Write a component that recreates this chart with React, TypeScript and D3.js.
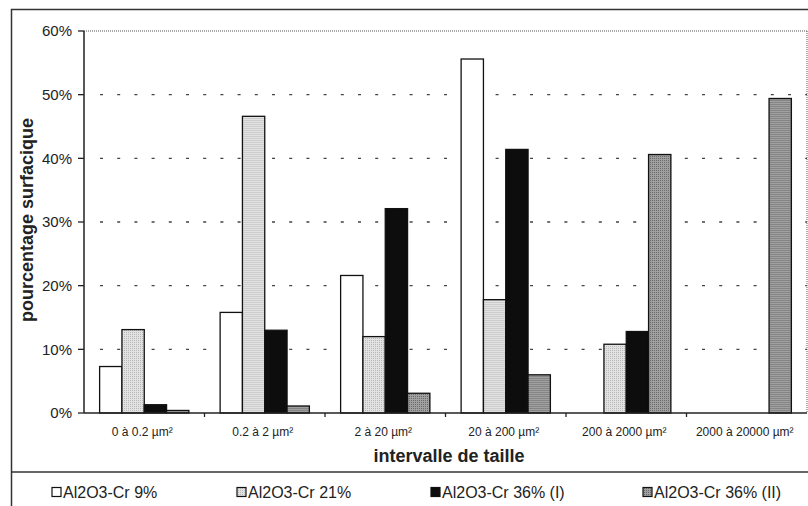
import React from "react";
import * as d3 from "d3";

const categories = [
  "0 à 0.2 µm²",
  "0.2 à 2 µm²",
  "2 à 20 µm²",
  "20 à 200 µm²",
  "200 à 2000 µm²",
  "2000 à 20000 µm²",
];
const seriesNames = ["Al2O3-Cr 9%", "Al2O3-Cr 21%", "Al2O3-Cr 36% (I)", "Al2O3-Cr 36% (II)"];
const cr9 = [7.3, 15.8, 21.6, 55.6, 0, 0];
const cr21 = [13.1, 46.6, 12.0, 17.8, 10.8, 0];
const cr36I = [1.3, 13.0, 32.1, 41.4, 12.8, 0];
const cr36II = [0.4, 1.1, 3.1, 6.0, 40.6, 49.4];
const seriesValues = [cr9, cr21, cr36I, cr36II];
const yTicks = [0, 10, 20, 30, 40, 50, 60];
const fills = ["#ffffff", "#d6d6d6", "#0d0d0d", "#8f8f8f"];
const legendX = [52, 237, 431, 643];

export default function App() {
  const W = 808, H = 506;
  const left = 84, right = 807, top = 31, bottom = 413;
  const x0 = d3.scaleBand<string>().domain(categories).range([left, right]).padding(0);
  const x1 = d3
    .scaleBand<string>()
    .domain(seriesNames)
    .range([0, x0.bandwidth()])
    .paddingInner(0)
    .paddingOuter(0.7);
  const y = d3.scaleLinear().domain([0, 60]).range([bottom, top]);
  const font = "'Liberation Sans', Arial, sans-serif";

  return (
    <svg
      width={W}
      height={H}
      style={{ position: "absolute", left: 0, top: 0, background: "#fff" }}
      fontFamily={font}
    >
      <defs>
        <pattern id="lg" width="2" height="2" patternUnits="userSpaceOnUse">
          <rect width="2" height="2" fill="#e2e2e2" />
          <rect width="1" height="1" fill="#b8b8b8" />
        </pattern>
        <pattern id="dg" width="2" height="2" patternUnits="userSpaceOnUse">
          <rect width="2" height="2" fill="#a0a0a0" />
          <rect width="1" height="1" fill="#6a6a6a" />
        </pattern>
      </defs>
      {/* outer frame */}
      <rect x={11.5} y={9.5} width={W} height={H} fill="none" stroke="#333" strokeWidth={1.5} />
      <line x1={11} x2={W} y1={472} y2={472} stroke="#333" strokeWidth={1.5} />

      {/* gridlines */}
      {yTicks
        .filter((t) => t > 0 && t < 60)
        .map((t) => (
          <line
            key={"g" + t}
            x1={left + 16}
            x2={right}
            y1={y(t)}
            y2={y(t)}
            stroke="#444"
            strokeWidth={1.3}
            strokeDasharray="3 14.2"
          />
        ))}
      <line x1={left} x2={right} y1={y(60)} y2={y(60)} stroke="#555" strokeWidth={1} strokeDasharray="1 1" />
      <line x1={right} x2={right} y1={y(60)} y2={y(0)} stroke="#555" strokeWidth={1} strokeDasharray="1 1" />

      {/* bars */}
      {categories.map((c, ci) => (
        <g key={c} transform={`translate(${x0(c)},0)`}>
          {seriesNames.map((s, si) => {
            const v = seriesValues[si][ci];
            if (v <= 0) return null;
            const fill = si === 1 ? "url(#lg)" : si === 3 ? "url(#dg)" : fills[si];
            return (
              <rect
                key={s}
                x={x1(s)}
                y={y(v)}
                width={x1.bandwidth()}
                height={y(0) - y(v)}
                fill={fill}
                stroke="#111"
                strokeWidth={1.3}
              />
            );
          })}
        </g>
      ))}

      {/* axes */}
      <line x1={left} x2={left} y1={top} y2={bottom} stroke="#222" strokeWidth={1.5} />
      <line x1={left} x2={right} y1={bottom} y2={bottom} stroke="#222" strokeWidth={1.5} />
      {yTicks.map((t) => (
        <g key={"t" + t}>
          <line x1={left - 6} x2={left} y1={y(t)} y2={y(t)} stroke="#222" strokeWidth={1.3} />
          <text x={72} y={y(t)} dy="0.35em" textAnchor="end" fontSize={15} fill="#222">
            {t + "%"}
          </text>
        </g>
      ))}
      {categories.map((c, i) => (
        <g key={"c" + c}>
          {i > 0 && (
            <line x1={x0(c)} x2={x0(c)} y1={bottom} y2={bottom + 4} stroke="#222" strokeWidth={1.3} />
          )}
          <text x={(x0(c) as number) + x0.bandwidth() / 2 - 2} y={436} textAnchor="middle" fontSize={12} fill="#222">
            {c}
          </text>
        </g>
      ))}

      {/* titles */}
      <text x={449} y={462} textAnchor="middle" fontSize={18} fontWeight="bold" fill="#222">
        intervalle de taille
      </text>
      <text
        transform="translate(33,220) rotate(-90)"
        textAnchor="middle"
        fontSize={18}
        fontWeight="bold"
        fill="#222"
      >
        pourcentage surfacique
      </text>

      {/* legend */}
      {seriesNames.map((s, i) => (
        <g key={"l" + s}>
          <rect
            x={legendX[i]}
            y={487.5}
            width={9}
            height={9}
            fill={i === 1 ? "url(#lg)" : i === 3 ? "url(#dg)" : fills[i]}
            stroke="#111"
            strokeWidth={1.2}
          />
          <text x={legendX[i] + 11} y={498} fontSize={16} fill="#222">
            {s}
          </text>
        </g>
      ))}
    </svg>
  );
}
